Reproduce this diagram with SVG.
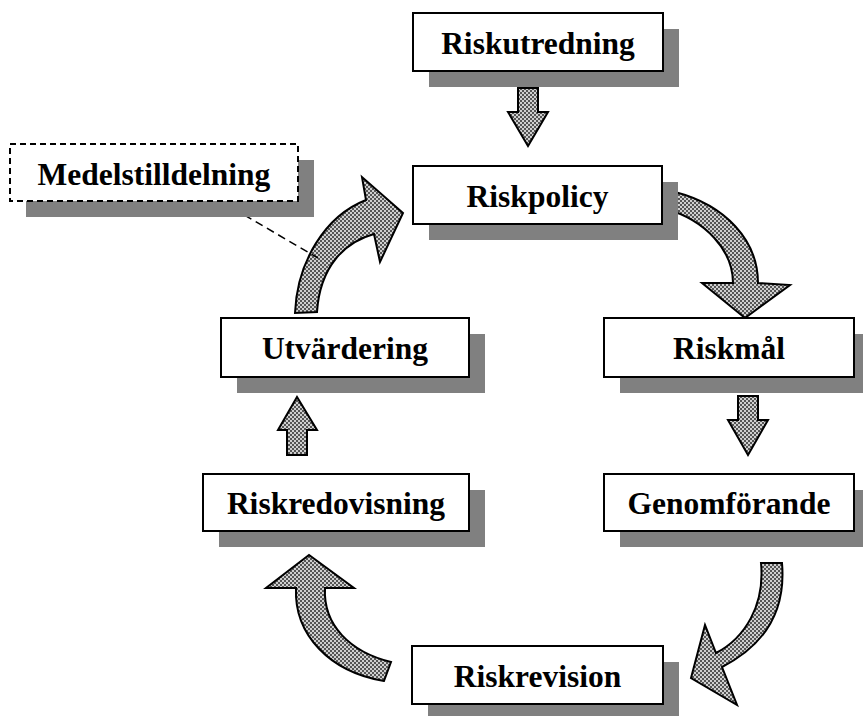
<svg xmlns="http://www.w3.org/2000/svg" width="863" height="716" viewBox="0 0 863 716">
  <defs>
    <!-- checkered fill used for all block arrows -->
    <pattern id="checker" width="4" height="4" patternUnits="userSpaceOnUse">
      <rect width="4" height="4" fill="#cfcfcf"/>
      <rect x="0" y="0" width="2" height="2" fill="#555"/>
      <rect x="2" y="2" width="2" height="2" fill="#555"/>
    </pattern>
  </defs>
  <style>
    .shadow { fill: #808080; }
    .box { fill: #ffffff; stroke: #000; stroke-width: 2; }
    .dashed { stroke-dasharray: 6 4; }
    .label { font-family: "Liberation Serif", "Times New Roman", serif; font-weight: bold; font-size: 31.5px; fill: #000; text-anchor: middle; }
    .arrow { fill: url(#checker); stroke: #000; stroke-width: 2; stroke-linejoin: miter; }
    .leader { fill: none; stroke: #000; stroke-width: 1.5; stroke-dasharray: 8 5; }
  </style>
  <rect width="863" height="716" fill="#fff"/>

  <!-- connectors -->
  <g id="connectors">
    <!-- straight block arrows -->
    <path class="arrow" d="M518,88 L538,88 L538,112 L548,112 L528,146 L508,112 L518,112 Z"/>
    <path class="arrow" d="M738,396 L758,396 L758,420 L768,420 L748,455 L728,420 L738,420 Z"/>
    <path class="arrow" d="M287,455 L307,455 L307,430 L317,430 L297,397 L278,430 L287,430 Z"/>
    <!-- curved arrows around the cycle -->
    <path class="arrow" d="M295,313 C297,262 325,216 366,200 L362,177 L403,213 L380,262 L374,234 C345,242 320,266 317,312 Z"/>
    <path class="arrow" d="M675,192 C725,205 758,240 758,283 L790,285 L745,318 L702,283 L733,283 C733,250 705,220 666,209 Z"/>
    <path class="arrow" d="M761,563 L782,563 C786,610 765,645 722,667 L737,705 L691,678 L705,625 L716,653 C745,638 765,605 761,563 Z"/>
    <path class="arrow" d="M325,588 C323,625 350,652 391,662 L384,681 C330,672 294,635 296,588 L266,588 L309,555 L354,588 Z"/>
    <!-- dashed leader from the side note -->
    <line class="leader" x1="222" y1="202" x2="318" y2="258"/>
  </g>

  <g id="riskutredning">
    <rect class="shadow" x="429" y="29" width="250" height="58"/>
    <rect class="box" x="413" y="13" width="250" height="58"/>
    <text class="label" x="538" y="54">Riskutredning</text>
  </g>

  <g id="riskpolicy">
    <rect class="shadow" x="429" y="182" width="249" height="58"/>
    <rect class="box" x="413" y="166" width="249" height="58"/>
    <text class="label" x="537.5" y="207">Riskpolicy</text>
  </g>

  <g id="medelstilldelning">
    <rect class="shadow" x="26" y="160" width="288" height="57"/>
    <rect class="box dashed" x="10" y="144" width="288" height="57"/>
    <text class="label" x="154" y="185">Medelstilldelning</text>
  </g>

  <g id="utvardering">
    <rect class="shadow" x="237" y="334" width="248" height="59"/>
    <rect class="box" x="221" y="318" width="248" height="59"/>
    <text class="label" x="345" y="359">Utvärdering</text>
  </g>

  <g id="riskmal">
    <rect class="shadow" x="620" y="334" width="250" height="59"/>
    <rect class="box" x="604" y="318" width="250" height="59"/>
    <text class="label" x="729" y="359">Riskmål</text>
  </g>

  <g id="riskredovisning">
    <rect class="shadow" x="219" y="490" width="266" height="57"/>
    <rect class="box" x="203" y="474" width="266" height="57"/>
    <text class="label" x="336" y="514">Riskredovisning</text>
  </g>

  <g id="genomforande">
    <rect class="shadow" x="620" y="490" width="250" height="57"/>
    <rect class="box" x="604" y="474" width="250" height="57"/>
    <text class="label" x="729" y="514">Genomförande</text>
  </g>

  <g id="riskrevision">
    <rect class="shadow" x="428" y="662" width="251" height="58"/>
    <rect class="box" x="412" y="646" width="251" height="58"/>
    <text class="label" x="537.5" y="687">Riskrevision</text>
  </g>
</svg>
